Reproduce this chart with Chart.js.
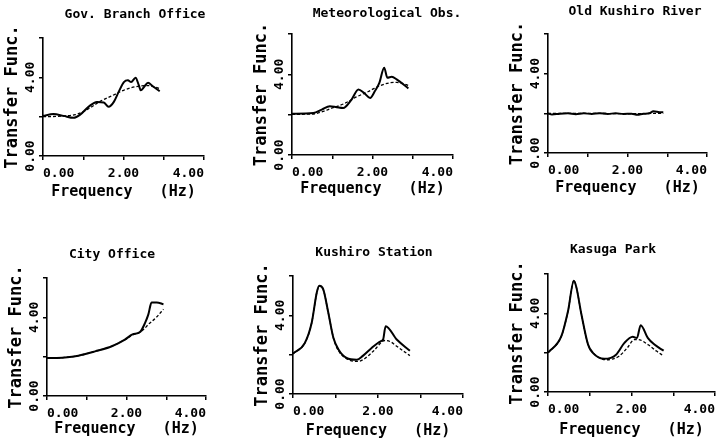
<!DOCTYPE html>
<html>
<head>
<meta charset="utf-8">
<title>Transfer functions</title>
<script src="https://cdn.jsdelivr.net/npm/chart.js@4.4.1/dist/chart.umd.min.js"></script>
<style>
  html, body { margin: 0; padding: 0; background: #fff; overflow: hidden; }
  body { width: 721px; height: 442px; position: relative; }
  .panel { position: absolute; }
</style>
</head>
<body>
<script>
'use strict';

/* ── DATA ── */
const titles = ['Gov. Branch Office', 'Meteorological Obs.', 'Old Kushiro River',
                'City Office', 'Kushiro Station', 'Kasuga Park'];

// Gov. Branch Office
const govFreq = [0, 0.26, 0.51, 0.76, 0.93, 1.13, 1.34, 1.51, 1.63, 1.76, 1.88, 2.01, 2.11, 2.19, 2.30, 2.38, 2.43, 2.51, 2.61, 2.72, 2.9];
const govObs  = [2.04, 2.13, 2.04, 1.94, 2.11, 2.5, 2.75, 2.72, 2.5, 2.75, 3.26, 3.76, 3.85, 3.76, 3.98, 3.6, 3.34, 3.51, 3.73, 3.56, 3.29];
const govFitFreq = [0, 0.5, 0.8, 1.0, 1.17, 1.42, 1.7, 2.0, 2.2, 2.43, 2.6, 2.75, 2.9];
const govFit     = [2.0, 2.03, 2.1, 2.25, 2.45, 2.78, 3.05, 3.34, 3.48, 3.56, 3.58, 3.52, 3.43];

// Meteorological Obs.
const metFreq = [0, 0.53, 0.74, 0.94, 1.11, 1.27, 1.48, 1.65, 1.79, 1.94, 2.06, 2.17, 2.29, 2.37, 2.48, 2.6, 2.77, 2.89];
const metObs  = [2.05, 2.08, 2.25, 2.42, 2.37, 2.33, 2.75, 3.25, 3.08, 2.83, 3.17, 3.58, 4.33, 3.83, 3.88, 3.75, 3.5, 3.3];
const metFitFreq = [0, 0.5, 0.8, 1.0, 1.3, 1.6, 1.9, 2.02, 2.2, 2.43, 2.6, 2.75, 2.89];
const metFit     = [2.02, 2.03, 2.18, 2.33, 2.55, 2.88, 3.15, 3.28, 3.45, 3.58, 3.6, 3.55, 3.45];

// Old Kushiro River
const oldFreq = [0, 0.1, 0.3, 0.5, 0.7, 0.9, 1.1, 1.3, 1.5, 1.7, 1.9, 2.1, 2.25, 2.4, 2.55, 2.65, 2.8, 2.9];
const oldObs  = [2.0, 1.94, 1.98, 2.0, 1.96, 2.0, 1.97, 2.01, 1.97, 2.0, 1.97, 1.98, 1.93, 1.98, 2.0, 2.1, 2.06, 2.05];
const oldFitFreq = [0, 0.5, 1.0, 1.5, 2.0, 2.5, 2.7, 2.9];
const oldFit     = [2.0, 2.0, 2.0, 1.99, 1.98, 1.99, 2.0, 2.0];

// City Office
const cityFreq = [0, 0.45, 0.79, 1.21, 1.63, 1.96, 2.15, 2.34, 2.47, 2.55, 2.63, 2.76, 2.93];
const cityObs  = [1.93, 1.96, 2.05, 2.27, 2.53, 2.87, 3.13, 3.25, 3.73, 4.15, 4.75, 4.75, 4.67];
const cityFitFreq = [0, 0.45, 0.79, 1.21, 1.63, 1.96, 2.15, 2.34, 2.45, 2.55, 2.75, 2.93];
const cityFit     = [1.93, 1.96, 2.05, 2.27, 2.53, 2.87, 3.1, 3.25, 3.42, 3.64, 4.0, 4.41];

// Kushiro Station
const kusFreq = [0, 0.28, 0.44, 0.56, 0.62, 0.71, 0.83, 0.95, 1.07, 1.26, 1.5, 1.65, 1.85, 2.06, 2.12, 2.18, 2.44, 2.75];
const kusObs  = [2.05, 2.6, 3.62, 5.16, 5.5, 5.33, 4.14, 2.86, 2.26, 1.83, 1.74, 1.95, 2.34, 2.68, 2.77, 3.45, 2.77, 2.2];
const kusFitFreq = [0, 0.28, 0.44, 0.56, 0.62, 0.71, 0.83, 0.95, 1.07, 1.3, 1.54, 1.7, 1.9, 2.16, 2.3, 2.44, 2.75];
const kusFit     = [2.05, 2.6, 3.62, 5.16, 5.5, 5.33, 4.14, 2.86, 2.2, 1.75, 1.66, 1.82, 2.2, 2.72, 2.65, 2.43, 1.95];

// Kasuga Park
const kasFreq = [0, 0.32, 0.48, 0.62, 0.68, 0.8, 0.96, 1.08, 1.35, 1.63, 1.83, 2.03, 2.13, 2.22, 2.39, 2.55, 2.77];
const kasObs  = [2.0, 2.84, 4.12, 5.66, 5.32, 3.95, 2.41, 1.98, 1.69, 1.9, 2.5, 2.81, 2.75, 3.4, 2.75, 2.41, 2.1];
const kasFitFreq = [0, 0.32, 0.48, 0.62, 0.68, 0.8, 0.96, 1.1, 1.4, 1.7, 1.9, 2.07, 2.2, 2.4, 2.6, 2.77];
const kasFit     = [2.0, 2.84, 4.12, 5.66, 5.32, 3.95, 2.41, 1.95, 1.64, 1.82, 2.25, 2.67, 2.65, 2.4, 2.08, 1.83];

const xTickLabels = ['0.00', '2.00', '4.00'];
const yTickLabels = ['0.00', '4.00'];

/* ── LAYOUT: plot area [left, right, top, bottom], title centre [x, y],
      gap from the x axis down to the middle of its title ── */
const areas = [
  [43, 204, 38, 156], [292, 453, 34, 155], [548, 707, 34, 153],
  [47, 206, 278, 396], [293, 463, 276, 394], [548, 716, 274, 392],
];
const titleCentres = [[135, 15], [387, 14], [635, 12], [112, 255], [374, 253], [613, 250]];
const xTitleGaps = [36, 34, 35, 33, 37, 38];

const Y_BOX = 43;   // width kept for the y axis (title + labels)
const X_BOX = 48;   // height kept for the x axis

Chart.defaults.font.family = "'DejaVu Sans Mono', monospace";
Chart.defaults.font.weight = 'bold';
Chart.defaults.color = '#000';

const zip = (xs, ys) => xs.map((x, i) => ({ x, y: ys[i] }));

function makePanel(i, obsFreq, obs, fitFreq, fit) {
  const [l, r, t, b] = areas[i];
  const [tx, ty] = titleCentres[i];
  const cl = l - Y_BOX;
  const ct = Math.round(ty - 9.8);
  const cr = Math.max(Math.round(2 * tx - cl), r + 1);
  const w = cr - cl;
  const h = b + X_BOX - ct;

  const wrap = document.createElement('div');
  wrap.className = 'panel';
  wrap.style.cssText = `left:${cl}px;top:${ct}px;width:${w}px;height:${h}px;`;
  const canvas = document.createElement('canvas');
  wrap.appendChild(canvas);
  document.body.appendChild(wrap);

  const axisGrid = { display: true, drawOnChartArea: false, drawTicks: true, tickLength: 4, color: '#000', lineWidth: 1.5 };
  const axisBorder = { display: true, color: '#000', width: 1.6 };

  new Chart(canvas, {
    type: 'line',
    data: {
      datasets: [
        { data: zip(obsFreq, obs), borderColor: '#000', borderWidth: 2, pointRadius: 0, cubicInterpolationMode: 'monotone', fill: false },
        { data: zip(fitFreq, fit), borderColor: '#000', borderWidth: 1.3, borderDash: [3, 2], pointRadius: 0, cubicInterpolationMode: 'monotone', fill: false },
      ],
    },
    options: {
      responsive: true,
      maintainAspectRatio: false,
      animation: false,
      layout: { padding: 0 },
      plugins: {
        legend: { display: false },
        tooltip: { enabled: false },
        title: {
          display: true,
          text: titles[i],
          font: { size: 13, weight: 'bold' },
          color: '#000',
          padding: { top: 2, bottom: t - ct - 2 - 15.6 },
        },
      },
      scales: {
        x: {
          type: 'linear',
          min: 0, max: 4,
          afterFit: s => { s.height = X_BOX; },
          grid: axisGrid,
          border: axisBorder,
          ticks: {
            stepSize: 1,
            align: 'inner',
            padding: 6,
            font: { size: 13, weight: 'bold' },
            maxRotation: 0,
            callback: v => (xTickLabels.includes(v.toFixed(2)) ? v.toFixed(2) : ''),
          },
          title: {
            display: true,
            text: 'Frequency   (Hz)',
            font: { size: 15, weight: 'bold' },
            padding: { top: 0, bottom: X_BOX - 9 - xTitleGaps[i] },
          },
        },
        y: {
          type: 'linear',
          min: 0, max: 6,
          afterFit: s => { s.width = Y_BOX; },
          grid: axisGrid,
          border: axisBorder,
          ticks: {
            stepSize: 2,
            minRotation: 90,
            maxRotation: 90,
            crossAlign: 'center',
            padding: -7,
            font: { size: 13, weight: 'bold' },
            callback: v => (yTickLabels.includes(v.toFixed(2)) ? v.toFixed(2) : ''),
          },
          title: {
            display: true,
            text: 'Transfer Func.',
            font: { size: 17, weight: 'bold' },
            padding: { top: 2, bottom: 0 },
          },
        },
        // empty spacer on the right so the title sits where the figure has it
        spacer: {
          type: 'linear',
          position: 'right',
          min: 0, max: 1,
          display: true,
          afterFit: s => { s.width = cr - r; },
          grid: { display: false, drawTicks: false },
          border: { display: false },
          ticks: { display: false },
        },
      },
    },
  });
}

makePanel(0, govFreq, govObs, govFitFreq, govFit);
makePanel(1, metFreq, metObs, metFitFreq, metFit);
makePanel(2, oldFreq, oldObs, oldFitFreq, oldFit);
makePanel(3, cityFreq, cityObs, cityFitFreq, cityFit);
makePanel(4, kusFreq, kusObs, kusFitFreq, kusFit);
makePanel(5, kasFreq, kasObs, kasFitFreq, kasFit);
</script>
</body>
</html>
